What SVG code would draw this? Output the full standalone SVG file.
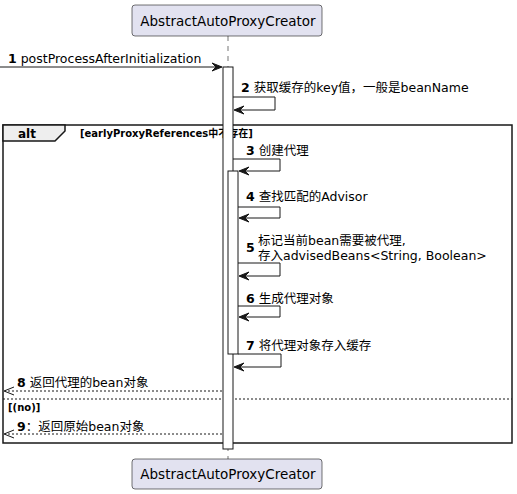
<svg xmlns="http://www.w3.org/2000/svg" width="517" height="494" viewBox="0 0 517 494">
<style>
text{font-family:"DejaVu Sans","Noto Sans CJK SC",sans-serif;fill:#000}
.msg{font-size:12.5px}
.num{font-weight:bold}
.part{font-size:13.5px}
.small{font-size:10px;font-weight:bold}
.pbox{fill:#E2E2F0;stroke:#181818;stroke-width:0.6}
.act{fill:#fff;stroke:#181818;stroke-width:1}
.line{fill:none;stroke:#181818;stroke-width:1}
.dash{fill:none;stroke:#181818;stroke-width:1;stroke-dasharray:2,2}
.life{fill:none;stroke:#181818;stroke-width:0.6;stroke-dasharray:5,5}
.head{fill:#181818;stroke:#181818;stroke-width:1}
</style>
<rect width="517" height="494" fill="#fff"/>
<g id="lifeline">
<line class="life" x1="228" y1="36" x2="228" y2="459"/>
</g>
<g id="participant-top">
<rect class="pbox" x="132" y="5" width="190" height="31" rx="3"/>
<text class="part" x="228" y="26" text-anchor="middle">AbstractAutoProxyCreator</text>
</g>
<g id="participant-bottom">
<rect class="pbox" x="132" y="459" width="190" height="30" rx="3"/>
<text class="part" x="228" y="479" text-anchor="middle">AbstractAutoProxyCreator</text>
</g>
<g id="alt-frame">
<rect x="3" y="125" width="509" height="318" fill="none" stroke="#181818" stroke-width="1.5"/>
<path d="M3,125 H65 V131 L55,141 H3 Z" fill="#EEEEEE" stroke="#181818" stroke-width="1.5"/>
<text class="small" x="18" y="138" style="font-size:12px">alt</text>
<text class="small" x="80" y="137">[earlyProxyReferences中不存在]</text>
<line class="dash" x1="3" y1="399" x2="512" y2="399"/>
<text class="small" x="8" y="411">[(no)]</text>
</g>
<g id="activation-outer">
<rect class="act" x="223" y="67" width="10" height="382"/>
</g>
<g id="activation-inner">
<rect class="act" x="228" y="171" width="10" height="183"/>
</g>
<g id="connectors">
<line class="line" x1="0" y1="67" x2="221" y2="67"/>
<polygon class="head" points="212,63 222,67 212,71 216,67"/>
<path class="line" d="M233,97 H275 V110 H235"/>
<polygon class="head" points="244,106 234,110 244,114 240,110"/>
<path class="line" d="M233,159 H280 V171 H240"/>
<polygon class="head" points="249,167 239,171 249,175 245,171"/>
<path class="line" d="M238,207 H280 V218 H240"/>
<polygon class="head" points="249,214 239,218 249,222 245,218"/>
<path class="line" d="M238,263 H280 V276 H240"/>
<polygon class="head" points="249,272 239,276 249,280 245,276"/>
<path class="line" d="M238,306 H280 V317 H240"/>
<polygon class="head" points="249,313 239,317 249,321 245,317"/>
<path class="line" d="M238,354 H281 V367 H235"/>
<polygon class="head" points="244,363 234,367 244,371 240,367"/>
<line class="dash" x1="222" y1="391" x2="5" y2="391"/>
<polyline class="line" points="14,387 4,391 14,395"/>
<line class="dash" x1="222" y1="434" x2="5" y2="434"/>
<polyline class="line" points="14,430 4,434 14,438"/>
</g>
<g id="labels">
<text class="msg" x="8" y="63"><tspan class="num">1</tspan> postProcessAfterInitialization</text>
<text class="msg" x="241" y="92"><tspan class="num">2</tspan> 获取缓存的key值，一般是beanName</text>
<text class="msg" x="246" y="155"><tspan class="num">3</tspan> 创建代理</text>
<text class="msg" x="246" y="201"><tspan class="num">4</tspan> 查找匹配的Advisor</text>
<text class="msg" x="246" y="252"><tspan class="num">5</tspan></text>
<text class="msg" x="258" y="245">标记当前bean需要被代理,</text>
<text class="msg" x="258" y="260">存入advisedBeans&lt;String, Boolean&gt;</text>
<text class="msg" x="246" y="303"><tspan class="num">6</tspan> 生成代理对象</text>
<text class="msg" x="246" y="350"><tspan class="num">7</tspan> 将代理对象存入缓存</text>
<text class="msg" x="17" y="387"><tspan class="num">8</tspan> 返回代理的bean对象</text>
<text class="msg" x="17" y="431"><tspan class="num">9</tspan>：返回原始bean对象</text>
</g>
</svg>
